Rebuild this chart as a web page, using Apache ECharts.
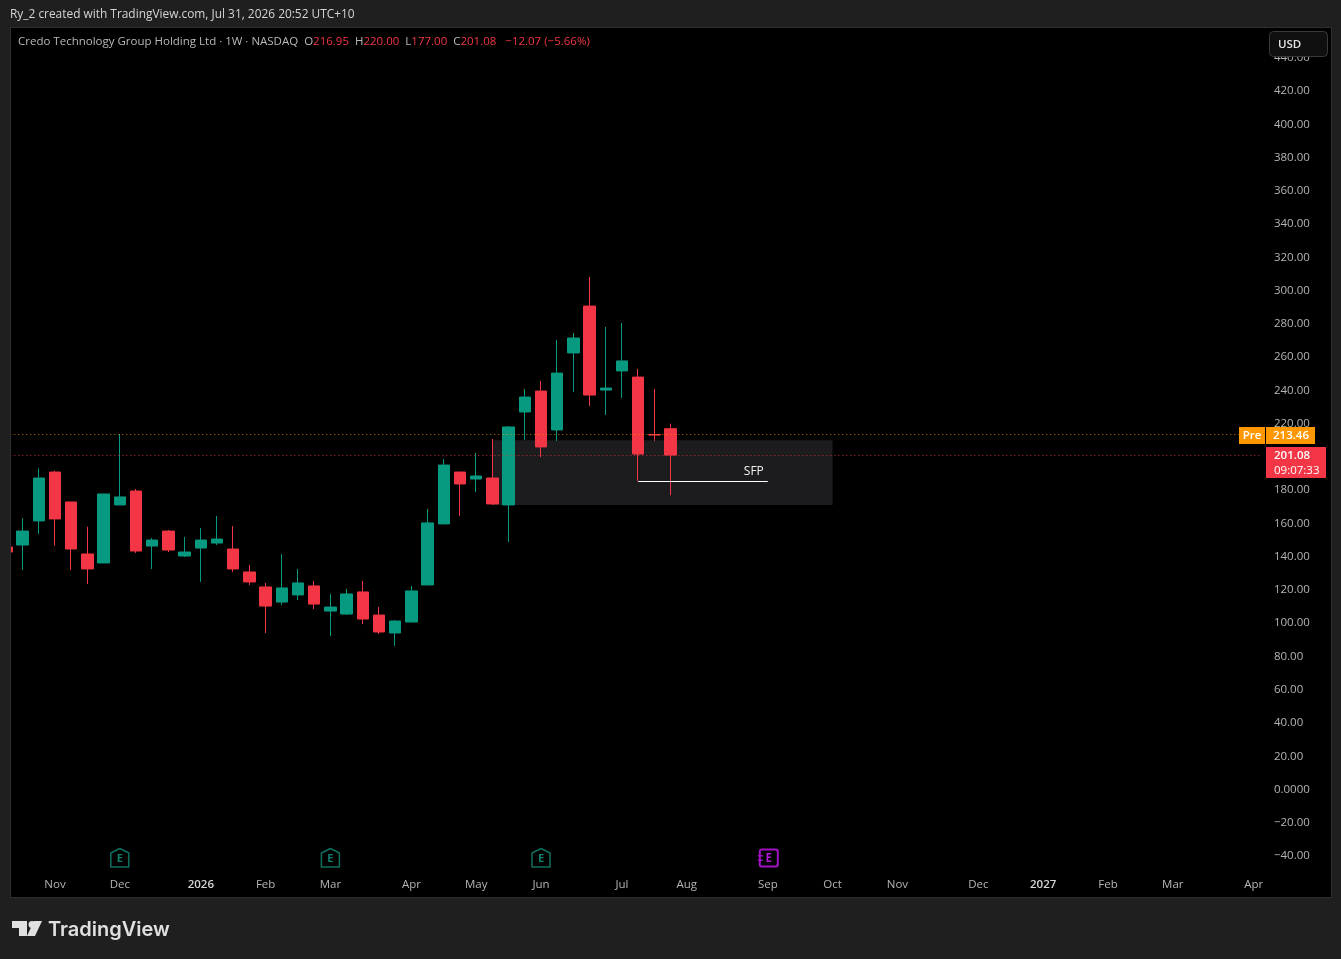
<!DOCTYPE html>
<html><head><meta charset="utf-8">
<style>html,body{margin:0;padding:0;background:#1e1e1e}#c{width:1341px;height:959px}</style>
<script src="https://cdn.jsdelivr.net/npm/echarts@6/dist/echarts.min.js"></script>
</head><body><div id="c"></div>
<script>
const categories=['2025-10-13','2025-10-20','2025-10-27','2025-11-03','2025-11-10','2025-11-17','2025-11-24','2025-12-01','2025-12-08','2025-12-15','2025-12-22','2025-12-29','2026-01-05','2026-01-12','2026-01-19','2026-01-26','2026-02-02','2026-02-09','2026-02-16','2026-02-23','2026-03-02','2026-03-09','2026-03-16','2026-03-23','2026-03-30','2026-04-06','2026-04-13','2026-04-20','2026-04-27','2026-05-04','2026-05-11','2026-05-18','2026-05-25','2026-06-01','2026-06-08','2026-06-15','2026-06-22','2026-06-29','2026-07-06','2026-07-13','2026-07-20','2026-07-27','2026-08-03','2026-08-10','2026-08-17','2026-08-24','2026-08-31','2026-09-07','2026-09-14','2026-09-21','2026-09-28','2026-10-05','2026-10-12','2026-10-19','2026-10-26','2026-11-02','2026-11-09','2026-11-16','2026-11-23','2026-11-30','2026-12-07','2026-12-14','2026-12-21','2026-12-28','2027-01-04','2027-01-11','2027-01-18','2027-01-25','2027-02-01','2027-02-08','2027-02-15','2027-02-22','2027-03-01','2027-03-08','2027-03-15','2027-03-22','2027-03-29','2027-04-05'];
const opens =[145.8,147.0,161.5,190.9,172.9,141.6,136.2,171.1,179.5,146.4,155.4,140.4,145.2,148.2,144.6,130.8,121.8,112.7,117.0,122.4,107.3,105.5,118.8,104.9,94.1,100.7,123.0,159.7,190.9,186.7,187.3,171.1,227.0,239.6,216.2,262.5,290.7,240.2,251.7,248.0,213.46,216.95];
const closes=[142.8,155.4,187.3,162.7,144.6,132.6,177.7,175.9,143.4,150.0,144.0,142.8,150.0,150.6,132.6,124.8,110.3,121.2,124.2,111.5,109.7,117.6,102.5,94.7,101.3,119.4,160.3,195.1,183.7,188.5,171.7,218.0,236.0,206.0,250.4,271.5,237.2,241.4,257.7,201.7,213.15,201.08];
const lows  =[141.0,132.0,153.6,146.6,132.0,123.6,136.2,171.1,142.2,132.6,142.8,139.8,124.8,147.0,130.8,123.0,94.1,110.9,114.0,108.5,92.3,104.9,99.5,93.5,86.3,100.7,123.0,159.7,164.5,178.9,171.1,148.8,210.2,199.9,209.6,239.0,230.6,225.2,235.4,185.5,209.6,177.0];
const highs =[147.0,163.1,193.1,191.7,172.9,158.0,177.7,213.8,180.7,151.2,156.0,151.8,157.2,164.5,158.4,135.0,124.2,141.6,132.6,125.4,117.6,120.6,125.4,109.7,101.9,122.4,168.7,198.7,190.9,202.3,210.8,218.6,240.8,245.6,270.3,274.5,308.2,278.1,280.5,252.9,240.8,220.0];
const monthTicks={'2025-11-03':'Nov','2025-12-01':'Dec','2026-01-05':'2026','2026-02-02':'Feb','2026-03-02':'Mar','2026-04-06':'Apr','2026-05-04':'May','2026-06-01':'Jun','2026-07-06':'Jul','2026-08-03':'Aug','2026-09-07':'Sep','2026-10-05':'Oct','2026-11-02':'Nov','2026-12-07':'Dec','2027-01-04':'2027','2027-02-01':'Feb','2027-03-01':'Mar','2027-04-05':'Apr'};
const earningsPast=['2025-12-01','2026-03-02','2026-06-01'];
const earningsNext='2026-09-07';
const prePrice=213.46, lastPrice=201.08;
const zoneTop=210, zoneBottom=171;
const sfpPrice=185.2;

const F='"Open Sans",sans-serif';
const UP='#089981', DN='#f23645';
const candles=opens.map((o,i)=>[o,closes[i],lows[i],highs[i]]);
const chart=echarts.init(document.getElementById('c'),null,{renderer:'canvas'});
chart.setOption({
  animation:false,backgroundColor:'#000',
  grid:{left:-1.7,width:1263.6,top:57.8,bottom:103,containLabel:false,outerBoundsMode:'none'},
  xAxis:{type:'category',data:categories,boundaryGap:true,
    axisLine:{show:false},axisTick:{show:false},splitLine:{show:false},
    axisLabel:{interval:(i,v)=>monthTicks[v]!==undefined,margin:23,color:'#b4b4b4',fontFamily:F,fontSize:11.5,
      hideOverlap:false,formatter:v=>{const t=monthTicks[v]||'';return /^\d+$/.test(t)?'{b|'+t+'}':t;},
      rich:{b:{fontWeight:600,color:'#d6d6d6',fontFamily:F,fontSize:11.5}}}},
  yAxis:{type:'value',position:'right',min:-40,max:440,interval:20,scale:false,
    axisLine:{show:false},axisTick:{show:false},splitLine:{show:false},
    axisLabel:{margin:12,padding:[4,0,0,0],color:'#b4b4b4',fontFamily:F,fontSize:11.5,showMinLabel:true,showMaxLabel:true,
      formatter:v=>v===0?'0.0000':(v<0?'\u2212'+(-v).toFixed(2):v.toFixed(2))}},
  series:[{type:'candlestick',data:candles,barWidth:12,
    itemStyle:{color:UP,color0:DN,borderColor:UP,borderColor0:DN,borderWidth:1},
    markArea:{silent:true,z:1,itemStyle:{color:'#1c1c1e'},
      data:[[{xAxis:'2026-05-11',yAxis:zoneTop},{xAxis:'2026-10-05',yAxis:zoneBottom}]]},
    markLine:{silent:true,symbol:'none',animation:false,
      data:[
        {yAxis:prePrice,lineStyle:{color:'#ff9800',type:[1,3],width:1,opacity:.8},label:{show:false}},
        {yAxis:lastPrice,lineStyle:{color:'#f23645',type:[1,3],width:1,opacity:.8},label:{show:false}},
        [{coord:['2026-07-13',sfpPrice],lineStyle:{color:'#ffffff',type:'solid',width:1},
          label:{show:true,position:'insideEndTop',formatter:'SFP',color:'#f0f0f0',fontFamily:F,fontSize:12,distance:[4,4]}},
         {coord:['2026-09-07',sfpPrice]}]
      ]}
  }]
});
const xOf=c=>chart.convertToPixel({xAxisIndex:0},c);
const yOf=p=>chart.convertToPixel({yAxisIndex:0},p);
const Z=100;
function rect(x,y,w,h,fill,z){return {type:'rect',z:z||Z,shape:{x,y,width:w,height:h},style:{fill}};}
function txt(x,y,t,fill,size,o){return {type:'text',z:Z+3,x,y,style:Object.assign({text:t,fill,fontFamily:F,fontSize:size||11.5,textVerticalAlign:'middle',textAlign:'left'},o||{})};}
function poly(points,style,z){return {type:'polygon',z:z||Z+3,shape:{points},style};}
const BG='#1f1f1f', LINE='#2e2e2e';
const els=[
  rect(0,0,1341,27,BG),rect(0,27,10,880,BG),rect(1332,27,9,880,BG),rect(0,898,1341,61,BG),
  rect(10,27,1322,1,LINE,Z+1),rect(10,27,1,871,LINE,Z+1),rect(1331,27,1,871,LINE,Z+1),rect(10,897,1322,1,LINE,Z+1),
  txt(10,15,'Ry_2 created with TradingView.com, Jul 31, 2026 20:52 UTC+10','#d4d4d4',11.9),
  {type:'text',z:Z+3,x:18,y:42,style:{fontFamily:F,fontSize:11.5,textVerticalAlign:'middle',
    rich:{g:{fill:'#b8b8b8',fontFamily:F,fontSize:11.5},r:{fill:'#f23645',fontFamily:F,fontSize:11.5}},
    text:'{g|Credo Technology Group Holding Ltd \u00b7 1W \u00b7 NASDAQ  O}{r|216.95}{g|  H}{r|220.00}{g|  L}{r|177.00}{g|  C}{r|201.08   \u221212.07 (\u22125.66%)}'}},
  {type:'rect',z:Z+2,shape:{x:1269.5,y:31.5,width:58,height:25,r:4},style:{fill:'#0f0f0f',stroke:'#3a3a3a',lineWidth:1}},
  txt(1278,45,'USD','#e4e4e4',11.5,{fontWeight:600}),
  rect(1239,yOf(prePrice)-7.5,26,17,'#ff9800'),rect(1266,yOf(prePrice)-7.5,49,17,'#ff9800'),
  txt(1252,yOf(prePrice)+1.5,'Pre','#fff',11.5,{textAlign:'center',fontWeight:600}),
  txt(1291,yOf(prePrice)+1.5,'213.46','#fff',11.5,{textAlign:'center',fontWeight:600}),
  rect(1266,yOf(lastPrice)-8,60,31,'#f23645'),
  txt(1274,yOf(lastPrice)+1,'201.08','#fff',11.5,{fontWeight:600}),
  txt(1274,yOf(lastPrice)+15.5,'09:07:33','#fff',11.5),
  poly([[12,921],[27,921],[27,936],[19,936],[19,928],[12,928]],{fill:'#e0e0e0'}),
  {type:'circle',z:Z+3,shape:{cx:32,cy:924.5,r:3.5},style:{fill:'#e0e0e0'}},
  poly([[34,921],[42,921],[35,936],[27,936]],{fill:'#e0e0e0'}),
  txt(48,929.5,'TradingView','#e0e0e0',20,{fontWeight:600,fontFamily:'Inter,'+F})
];
earningsPast.forEach(c=>{const x=xOf(c);
  els.push(poly([[x-9,853],[x,848.5],[x+9,853],[x+9,867],[x-9,867]],{fill:'transparent',stroke:'#0f6f5f',lineWidth:1.5,lineJoin:'round'},Z+2));
  els.push(txt(x,858.5,'E','#10806c',11,{textAlign:'center',fontWeight:'bold'}));
});
{const x=xOf(earningsNext);
  els.push({type:'rect',z:Z+2,shape:{x:x-8,y:849.5,width:18,height:17,r:2},style:{fill:'transparent',stroke:'#a112c4',lineWidth:2}});
  els.push(rect(x-10,855,5,1.5,'#a112c4',Z+3),rect(x-10,859.5,5,1.5,'#a112c4',Z+3));
  els.push(txt(x+1,858.5,'E','#b018d4',11.5,{textAlign:'center',fontWeight:'bold'}));
}
chart.setOption({graphic:{elements:els}});
</script></body></html>
